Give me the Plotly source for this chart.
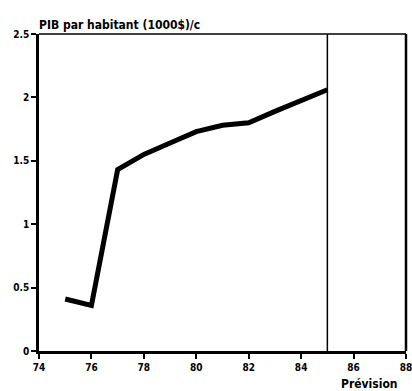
import plotly.graph_objects as go

years = [75, 76, 77, 78, 79, 80, 81, 82, 83, 84, 85]
pib = [0.41, 0.36, 1.43, 1.55, 1.64, 1.73, 1.78, 1.80, 1.89, 1.98, 2.06]
x_ticks = [74, 76, 78, 80, 82, 84, 86, 88]
y_ticks = [0, 0.5, 1, 1.5, 2, 2.5]
y_labels = ["0", "0.5", "1", "1.5", "2", "2.5"]
title_text = "PIB par habitant (1000$)/c"
forecast_label = "Prévision"
forecast_start = 85

font = "Liberation Sans Narrow, DejaVu Sans Condensed, Arial Narrow, sans-serif"

fig = go.Figure()
fig.add_trace(go.Scatter(x=years, y=pib, mode="lines",
                         line=dict(color="black", width=5), showlegend=False))

fig.add_shape(type="line", xref="x", yref="paper", x0=forecast_start, x1=forecast_start,
              y0=0, y1=1, line=dict(color="black", width=1.5))
# top frame line
fig.add_shape(type="line", xref="paper", yref="paper", x0=0, x1=1, y0=1, y1=1,
              line=dict(color="black", width=1.5))
# right border at 88
fig.add_shape(type="line", xref="paper", yref="paper", x0=1, x1=1, y0=0, y1=1,
              line=dict(color="black", width=2.5))

fig.add_annotation(text=title_text, xref="paper", yref="paper", x=0.0, y=1.0,
                   xanchor="left", yanchor="bottom", showarrow=False, xshift=-2,
                   font=dict(family=font, size=12, color="black", weight="bold"))
fig.add_annotation(text=forecast_label, xref="x", yref="paper", x=86.6, y=0,
                   xanchor="center", yanchor="top", showarrow=False, yshift=-24,
                   font=dict(family=font, size=12, color="black", weight="bold"))

fig.update_layout(
    width=412, height=391,
    margin=dict(l=39, r=6, t=34, b=40),
    paper_bgcolor="white", plot_bgcolor="white",
    font=dict(family=font, size=10, color="black", weight="bold"),
)
fig.update_xaxes(range=[74, 88], tickvals=x_ticks, ticktext=[str(v) for v in x_ticks],
                 automargin=False, ticklabeloverflow="allow",
                 showgrid=False, zeroline=False, showline=True, linecolor="black", linewidth=2.5,
                 ticks="outside", ticklen=5, tickwidth=2, tickcolor="black")
fig.update_yaxes(range=[0, 2.5], tickvals=y_ticks, ticktext=y_labels,
                 automargin=False,
                 showgrid=False, zeroline=False, showline=True, linecolor="black", linewidth=2.5,
                 ticks="outside", ticklen=5, tickwidth=1.5, tickcolor="black")

fig.write_html("out.html", config={"displayModeBar": False},
               post_script="document.body.style.margin='0';document.body.style.padding='0';document.body.style.overflow='hidden';")
